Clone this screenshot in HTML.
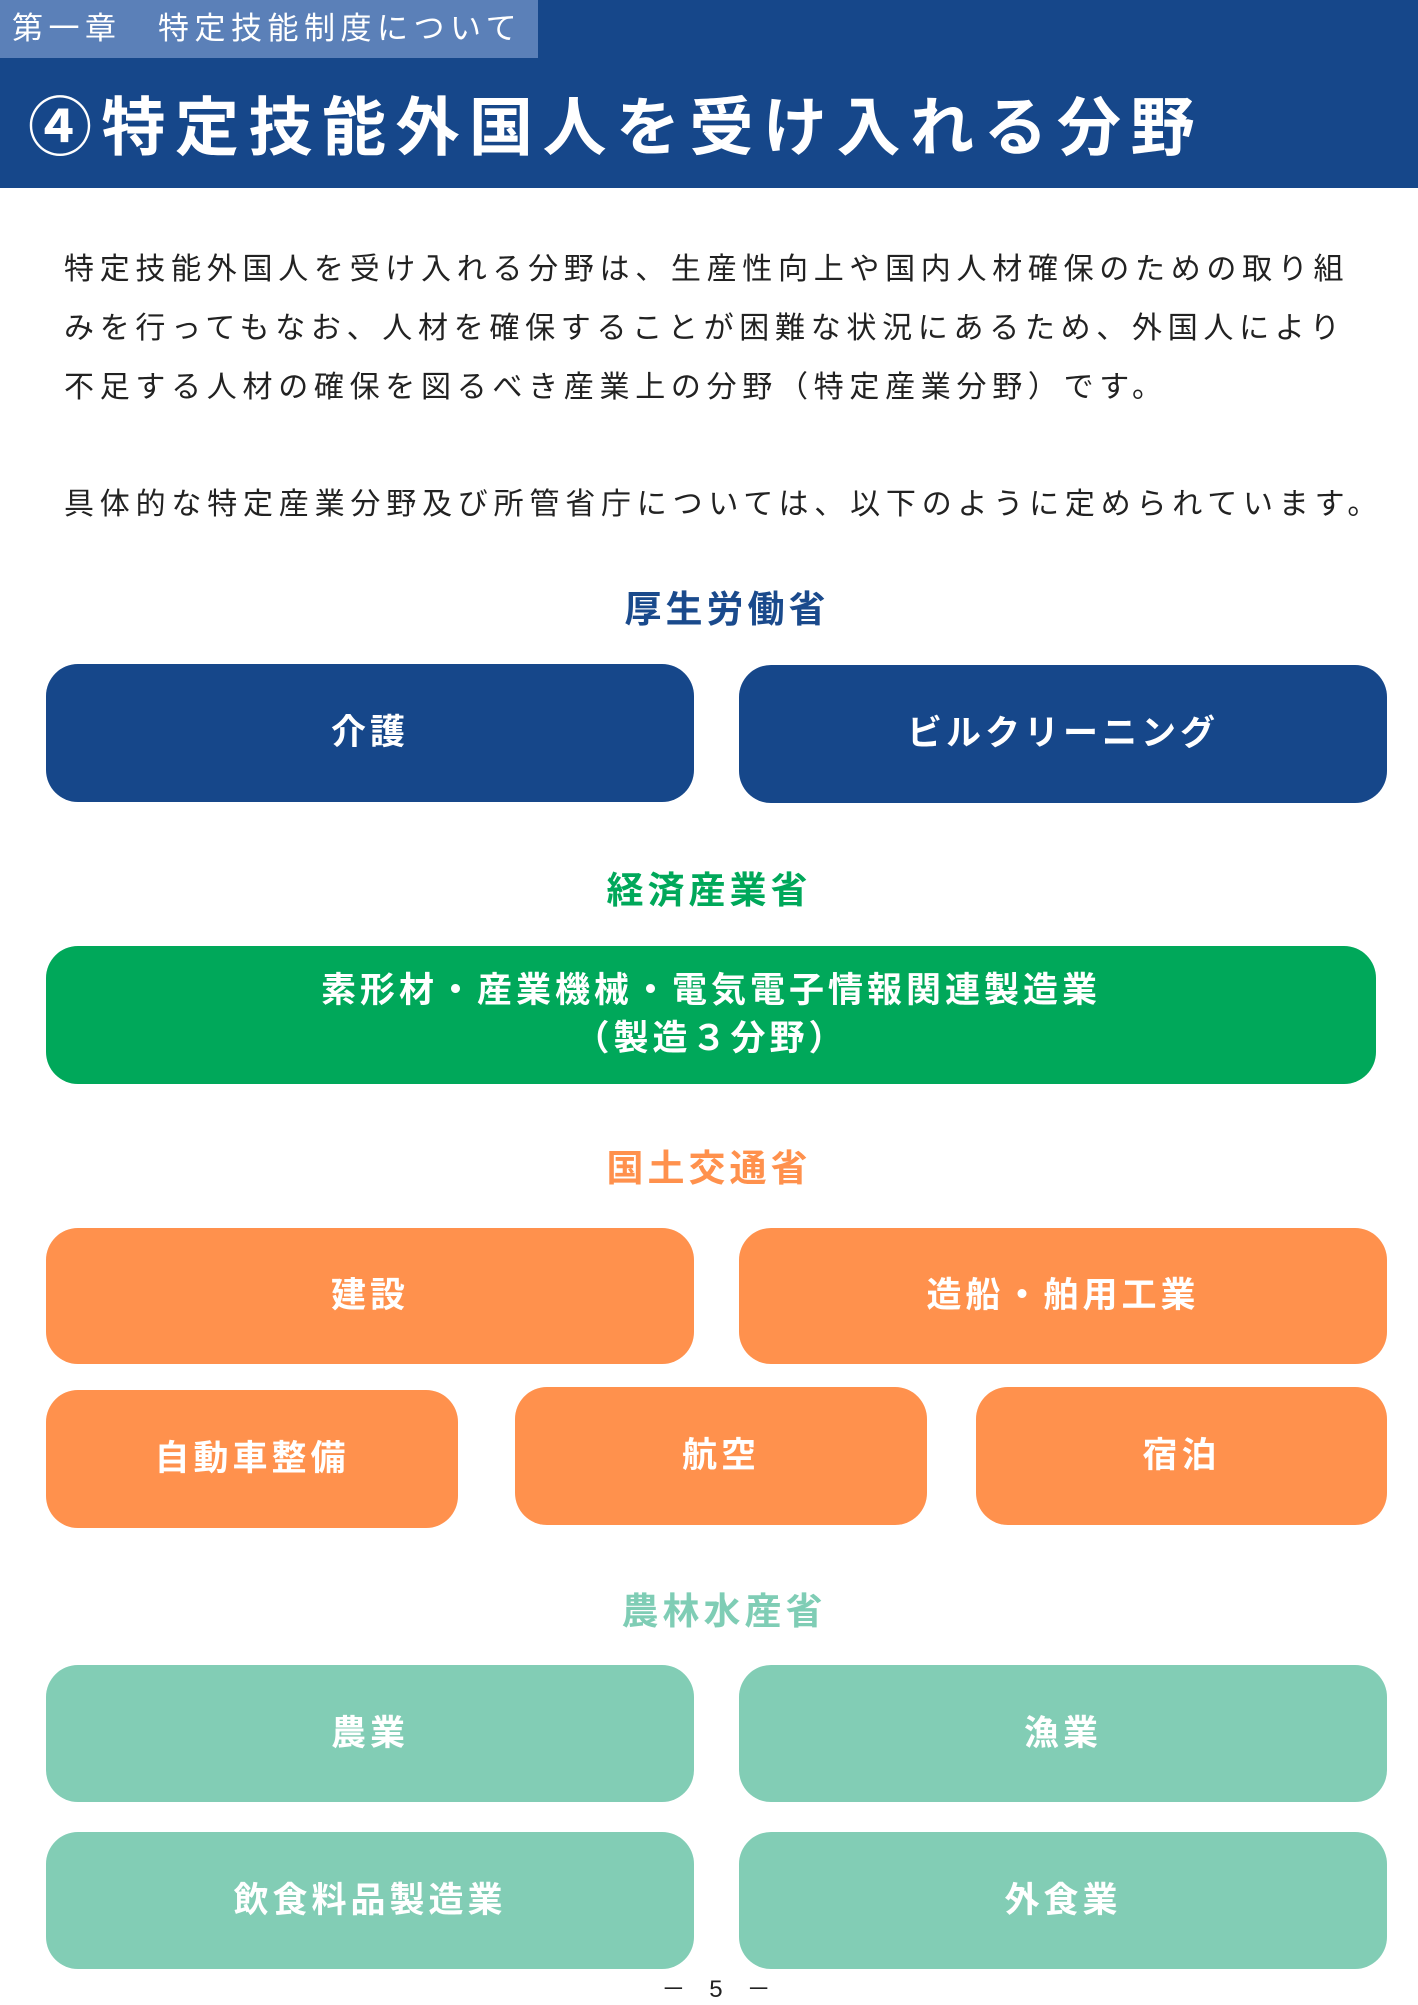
<!DOCTYPE html>
<html><head><meta charset="utf-8"><style>
*{margin:0;padding:0;box-sizing:border-box}
body{width:1418px;height:2005px;background:#fff;position:relative;overflow:hidden;font-family:"Liberation Sans","Noto Sans CJK JP",sans-serif}
.band{position:absolute;left:0;top:0;width:1418px;height:188px;background:#16478a}
.chap{position:absolute;left:0;top:0;width:538px;height:58px;background:#5b80b8;color:#fff;font-size:31px;line-height:58px;padding-left:12px;letter-spacing:5.5px;white-space:nowrap}
.title{position:absolute;left:28px;top:88px;color:#fff;font-size:64px;font-weight:bold;line-height:80px;letter-spacing:9.5px;white-space:nowrap}
.p{position:absolute;left:64px;font-size:30px;letter-spacing:5.7px;color:#222;white-space:nowrap;line-height:40px}
.h{position:absolute;width:400px;text-align:center;white-space:nowrap;font-size:37px;font-weight:bold;letter-spacing:4px;line-height:48px}
.b{position:absolute;border-radius:32px;color:#fff;font-size:35px;font-weight:bold;letter-spacing:4px;display:flex;align-items:center;justify-content:center;text-align:center;line-height:48px}
.bl{background:#16478a}.gr{background:#00a85a}.or{background:#ff914d}.tl{background:#82cdb5}
</style></head><body>
<div class="band"></div>
<div class="chap">第一章　特定技能制度について</div>
<div class="title">④特定技能外国人を受け入れる分野</div>
<div class="p" style="top:250px">特定技能外国人を受け入れる分野は、生産性向上や国内人材確保のための取り組</div>
<div class="p" style="top:309px">みを行ってもなお、人材を確保することが困難な状況にあるため、外国人により</div>
<div class="p" style="top:368px">不足する人材の確保を図るべき産業上の分野（特定産業分野）です。</div>
<div class="p" style="top:485px;letter-spacing:5.8px">具体的な特定産業分野及び所管省庁については、以下のように定められています。</div>

<div class="h" style="top:586px;left:527px;color:#1a4a8c">厚生労働省</div>
<div class="b bl" style="left:46px;top:664px;width:648px;height:138px">介護</div>
<div class="b bl" style="left:739px;top:665px;width:648px;height:138px">ビルクリーニング</div>

<div class="h" style="top:867px;left:509px;color:#00a85a">経済産業省</div>
<div class="b gr" style="left:46px;top:946px;width:1330px;height:138px">素形材・産業機械・電気電子情報関連製造業<br>（製造３分野）</div>

<div class="h" style="top:1145px;left:509px;color:#ff914d">国土交通省</div>
<div class="b or" style="left:46px;top:1228px;width:648px;height:136px">建設</div>
<div class="b or" style="left:739px;top:1228px;width:648px;height:136px">造船・舶用工業</div>
<div class="b or" style="left:46px;top:1390px;width:412px;height:138px">自動車整備</div>
<div class="b or" style="left:515px;top:1387px;width:412px;height:138px">航空</div>
<div class="b or" style="left:976px;top:1387px;width:411px;height:138px">宿泊</div>

<div class="h" style="top:1588px;left:524px;color:#7fcdb5">農林水産省</div>
<div class="b tl" style="left:46px;top:1665px;width:648px;height:137px">農業</div>
<div class="b tl" style="left:739px;top:1665px;width:648px;height:137px">漁業</div>
<div class="b tl" style="left:46px;top:1832px;width:648px;height:137px">飲食料品製造業</div>
<div class="b tl" style="left:739px;top:1832px;width:648px;height:137px">外食業</div>

<div style="position:absolute;left:0;width:1418px;top:1976px;text-align:center;font-size:24px;line-height:28px;color:#222;padding-left:14px">－　5　－</div>
</body></html>
